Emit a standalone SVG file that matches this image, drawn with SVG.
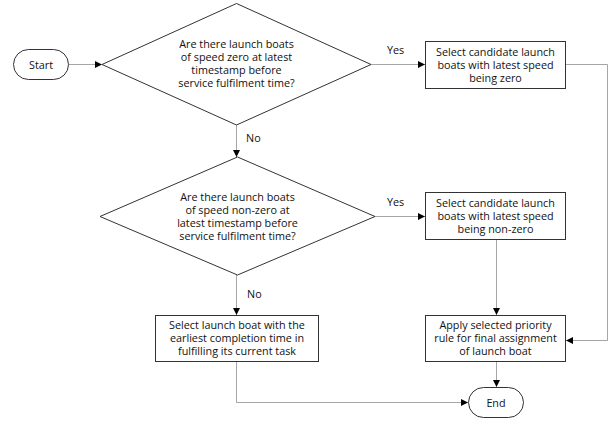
<svg xmlns="http://www.w3.org/2000/svg" width="613" height="421" viewBox="0 0 613 421">
<defs>
<marker id="ah" markerWidth="8" markerHeight="8" refX="7" refY="4" orient="auto" markerUnits="userSpaceOnUse">
<path d="M0,0.5 L7,4 L0,7.5 Z" fill="#000"/>
</marker>
<style>
.s{fill:#fff;stroke:#333;stroke-width:1}
.c{fill:none;stroke:#a6a6a6;stroke-width:1}
.a{marker-end:url(#ah)}
text{font-family:"Open Sans","Noto Sans","Liberation Sans",sans-serif;font-size:10.8px;fill:#111;text-anchor:middle}
.l{text-anchor:start}
</style>
</defs>
<rect width="613" height="421" fill="#fff"/>
<g id="connectors">
<path class="c a" d="M68,64.5 L102,64.5"/>
<path class="c a" d="M371,64.5 L425,64.5"/>
<path class="c" d="M566,64.5 L607.5,64.5 L607.5,340.5 L572,340.5"/>
<path class="c a" d="M607.5,340.5 L566,340.5"/>
<path class="c a" d="M236.5,125 L236.5,157"/>
<path class="c a" d="M375,216.5 L425,216.5"/>
<path class="c a" d="M496.5,239 L496.5,315"/>
<path class="c a" d="M236.5,275 L236.5,315"/>
<path class="c a" d="M496.5,361 L496.5,387"/>
<path class="c a" d="M236.5,361 L236.5,402.5 L468,402.5"/>
<text class="l" x="387" y="54">Yes</text>
<text class="l" x="246" y="142">No</text>
<text class="l" x="387" y="206">Yes</text>
<text class="l" x="247" y="298">No</text>
</g>
<g id="start">
<rect class="s" x="13.5" y="49.5" width="55" height="30" rx="15" ry="15"/>
<text x="41" y="68.5">Start</text>
</g>
<g id="decision1">
<polygon class="s" points="236.5,3.5 371,64.5 236.5,125 102,64.5"/>
<text x="236.5" y="48">Are there launch boats<tspan x="236.5" dy="13">of speed zero at latest</tspan><tspan x="236.5" dy="13">timestamp before</tspan><tspan x="236.5" dy="13">service fulfilment time?</tspan></text>
</g>
<g id="select-zero">
<rect class="s" x="425.5" y="41.5" width="140" height="47"/>
<text x="495.5" y="56">Select candidate launch<tspan x="495.5" dy="13">boats with latest speed</tspan><tspan x="495.5" dy="13">being zero</tspan></text>
</g>
<g id="decision2">
<polygon class="s" points="237.5,157 375,216.5 237.5,275 100,216.5"/>
<text x="237.5" y="201">Are there launch boats<tspan x="237.5" dy="13">of speed non-zero at</tspan><tspan x="237.5" dy="13">latest timestamp before</tspan><tspan x="237.5" dy="13">service fulfilment time?</tspan></text>
</g>
<g id="select-nonzero">
<rect class="s" x="425.5" y="192.5" width="140" height="47"/>
<text x="495.5" y="207">Select candidate launch<tspan x="495.5" dy="13">boats with latest speed</tspan><tspan x="495.5" dy="13">being non-zero</tspan></text>
</g>
<g id="select-earliest">
<rect class="s" x="155.5" y="315.5" width="163" height="46"/>
<text x="237" y="329">Select launch boat with the<tspan x="237" dy="13">earliest completion time in</tspan><tspan x="237" dy="13">fulfilling its current task</tspan></text>
</g>
<g id="apply-rule">
<rect class="s" x="425.5" y="315.5" width="140" height="46"/>
<text x="495.5" y="329">Apply selected priority<tspan x="495.5" dy="13">rule for final assignment</tspan><tspan x="495.5" dy="13">of launch boat</tspan></text>
</g>
<g id="end">
<rect class="s" x="468.5" y="387.5" width="55" height="30" rx="15" ry="15"/>
<text x="496" y="406.5">End</text>
</g>
</svg>
